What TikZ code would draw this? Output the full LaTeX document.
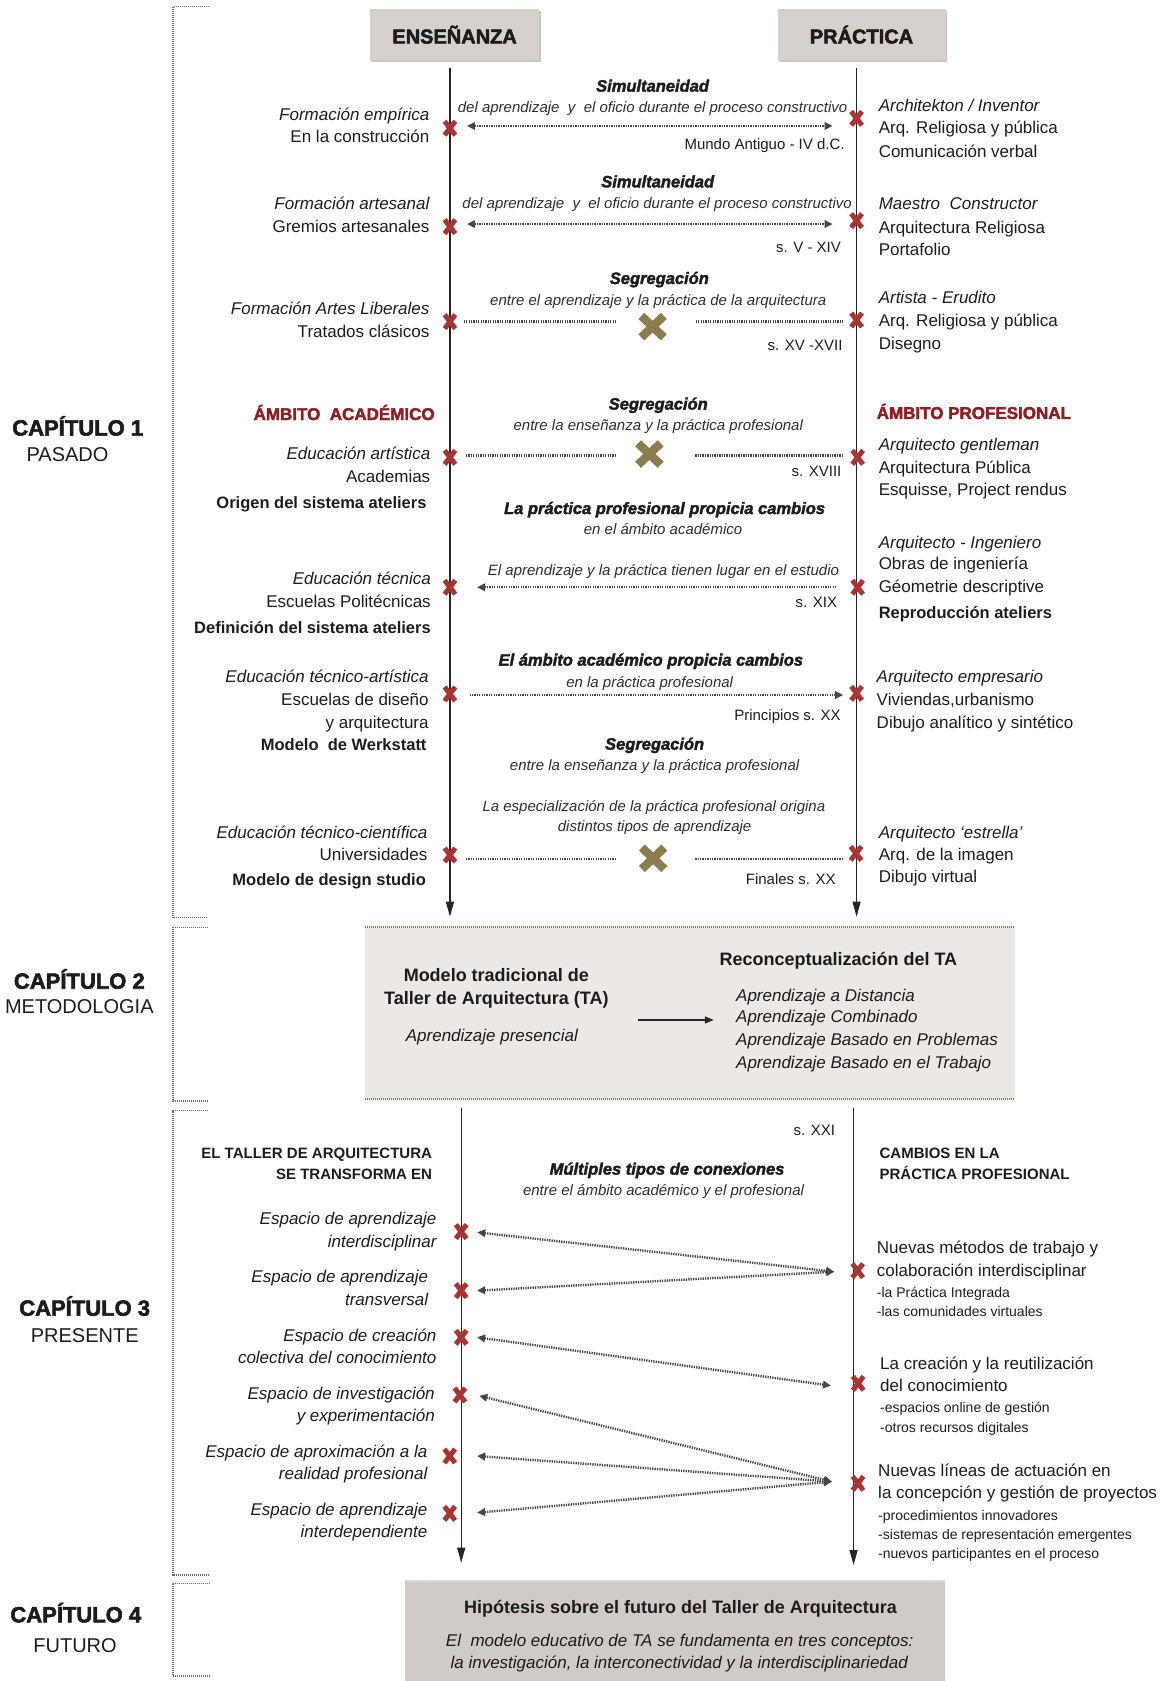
\documentclass[tikz,border=0pt]{standalone}
\usepackage{fontspec}
\setmainfont{Liberation Sans}
\newfontfamily\heavyfont[FakeBold=2.5]{Liberation Sans Bold}
\newfontfamily\heavyitfont[FakeBold=2.2]{Liberation Sans Bold Italic}
\usetikzlibrary{arrows.meta,shadows}
\definecolor{txt}{RGB}{28,28,28}
\definecolor{txt2}{RGB}{45,45,45}
\definecolor{xred}{RGB}{168,52,52}
\definecolor{xgold}{RGB}{140,124,78}
\definecolor{ared}{RGB}{140,32,36}
\definecolor{hdrfill}{RGB}{214,209,205}
\definecolor{boxfill}{RGB}{236,232,229}
\definecolor{futfill}{RGB}{208,203,199}
\definecolor{dotred}{RGB}{190,85,85}
\definecolor{arrgray}{RGB}{70,70,70}
\definecolor{brk}{RGB}{105,105,105}
\tikzset{
 base/.style={inner sep=0pt, text=txt, yshift=-3pt},
 n17/.style={base, font=\fontsize{17}{20}\selectfont},
 i17/.style={base, font=\fontsize{17}{20}\selectfont\itshape},
 b16/.style={base, font=\fontsize{16.5}{20}\selectfont\bfseries},
 b15/.style={base, font=\fontsize{15}{18}\selectfont\bfseries},
 b18/.style={base, font=\fontsize{18}{21}\selectfont\bfseries},
 i15/.style={base, text=txt2, font=\fontsize{15}{18}\selectfont\itshape},
 n15/.style={base, font=\fontsize{15}{18}\selectfont},
 n14/.style={base, font=\fontsize{14}{17}\selectfont},
 hd/.style={base, font=\fontsize{16.5}{19}\selectfont\heavyitfont},
 amb/.style={base, text=ared, font=\fontsize{17}{20}\selectfont\heavyfont},
 captitle/.style={base, font=\fontsize{22}{25}\selectfont\heavyfont},
 capsub/.style={base, font=\fontsize{20}{23}\selectfont},
 L/.style={anchor=mid east},
 R/.style={anchor=mid west},
 M/.style={anchor=mid},
 hdrbox/.style={fill=hdrfill, inner sep=0pt, text=txt, font=\fontsize{20}{23}\selectfont\heavyfont,
   drop shadow={shadow xshift=1.5pt, shadow yshift=-1.5pt, fill=black, opacity=.22}},
 brkline/.style={draw=brk, line width=1.3pt, dash pattern=on 1pt off 1pt},
 reddot/.style={draw=dotred, line width=1.3pt, dash pattern=on 1pt off 1pt},
 vline/.style={draw=black!85, line width=1.1pt, -{Triangle[length=15pt,width=8pt]}},
 darr/.style={draw=arrgray, line width=2.4pt, dash pattern=on 1.3pt off 1.1pt},
 dboth/.style={darr, {Triangle[length=8pt,width=7.5pt]}-{Triangle[length=8pt,width=7.5pt]}},
 dleft/.style={darr, {Triangle[length=8pt,width=7.5pt]}-},
 dright/.style={darr, -{Triangle[length=8pt,width=7.5pt]}},
 redx/.pic={\draw[xred, line width=5pt] (-5,-6.5)--(5,6.5) (-5,6.5)--(5,-6.5);},
 goldx/.pic={\draw[xgold, line width=8.5pt] (-10.5,-10)--(10.5,10) (-10.5,10)--(10.5,-10);},
}
\begin{document}
\begin{tikzpicture}[x=1.0721pt,y=-1.0721pt]
\useasboundingbox (0,0) rectangle (1082,1568);

% chapter brackets
\draw[brkline] (194.7,6.2) -- (161.4,6.2) -- (161.4,856) -- (193.7,856);
\draw[brkline] (193.7,865) -- (161.4,865) -- (161.4,1027) -- (193.7,1027);
\draw[brkline] (193.7,1036) -- (161.4,1036) -- (161.4,1469) -- (195.9,1469);
\draw[brkline] (195.9,1476.8) -- (161.4,1476.8) -- (161.4,1563.3) -- (195.9,1563.3);

% chapter labels
\node[captitle, M] (c1a) at (72.5,401) {CAPÍTULO 1};
\node[capsub, M] (c1b) at (63,425) {PASADO};
\node[captitle, M] (c2a) at (74,917) {CAPÍTULO 2};
\node[capsub, M] (c2b) at (74,940) {METODOLOGIA};
\node[captitle, M] (c3a) at (79,1222) {CAPÍTULO 3};
\node[capsub, M] (c3b) at (79,1247) {PRESENTE};
\node[captitle, M] (c4a) at (70.7,1508) {CAPÍTULO 4};
\node[capsub, M] (c4b) at (70,1536) {FUTURO};

% header boxes
\node[hdrbox, minimum width=169.4pt, minimum height=50.7pt] (hE) at (424,32.35) {ENSEÑANZA};
\node[hdrbox, minimum width=168pt, minimum height=50.7pt] (hP) at (803.6,32.35) {PRÁCTICA};

% vertical timelines chapter 1
\coordinate (Lt) at (419.7,63.7); \coordinate (Lb) at (419.7,855);
\coordinate (Rt) at (799,63.7);   \coordinate (Rb) at (799,855);
\draw[vline] (Lt) -- (Lb);
\draw[vline] (Rt) -- (Rb);

% row 1
\node[hd, M] (h1) at (608.7,80.2) {Simultaneidad};
\node[i15, M] (s1) at (608.7,99.5) {del aprendizaje\ \ y\ \ el oficio durante el proceso constructivo};
\coordinate (a1l) at (435.6,117.5); \coordinate (a1r) at (776.6,117.5);
\draw[dboth] (a1l) -- (a1r);
\node[n15, L] (d1) at (788,134.3) {Mundo Antiguo - IV d.C.};
\node[i17, L] (l1a) at (400.7,107.3) {Formación empírica};
\node[n17, L] (l1b) at (400.7,127.5) {En la construcción};
\node[i17, R] (r1a) at (819.5,98.9) {Architekton / Inventor};
\node[n17, R] (r1b) at (819.5,119.7) {Arq. Religiosa y pública};
\node[n17, R] (r1c) at (819.5,141.5) {Comunicación verbal};

% row 2
\node[hd, M] (h2) at (613.5,169.5) {Simultaneidad};
\node[i15, M] (s2) at (613,189) {del aprendizaje\ \ y\ \ el oficio durante el proceso constructivo};
\coordinate (a2l) at (435.6,209); \coordinate (a2r) at (776.6,209);
\draw[dboth] (a2l) -- (a2r);
\node[n15, L] (d2) at (784.5,230) {s. V - XIV};
\node[i17, L] (l2a) at (400.7,189.7) {Formación artesanal};
\node[n17, L] (l2b) at (400.7,211.4) {Gremios artesanales};
\node[i17, R] (r2a) at (819.5,190.3) {Maestro\ \ Constructor};
\node[n17, R] (r2b) at (819.5,212.4) {Arquitectura Religiosa};
\node[n17, R] (r2c) at (819.5,233.2) {Portafolio};

% row 3
\node[hd, M] (h3) at (615,259.6) {Segregación};
\node[i15, M] (s3) at (614,279.8) {entre el aprendizaje y la práctica de la arquitectura};
\coordinate (g3a) at (432.6,300); \coordinate (g3b) at (575.3,300);
\coordinate (g3c) at (649,300);   \coordinate (g3d) at (787,300);
\draw[darr] (g3a) -- (g3b);
\draw[darr] (g3c) -- (g3d);
\pic at (608.7,304.7) {goldx};
\node[n15, L] (d3) at (786,321.8) {s. XV -XVII};
\node[i17, L] (l3a) at (400.7,288.5) {Formación Artes Liberales};
\node[n17, L] (l3b) at (400.7,309.4) {Tratados clásicos};
\node[i17, R] (r3a) at (819.5,278) {Artista - Erudito};
\node[n17, R] (r3b) at (819.5,299.5) {Arq. Religiosa y pública};
\node[n17, R] (r3c) at (819.5,320.5) {Disegno};

% ambitos
\node[amb, L] (ambA) at (405.6,386.5) {ÁMBITO\ \ ACADÉMICO};
\node[amb, R] (ambP) at (817.6,385.5) {ÁMBITO PROFESIONAL};

% row 4
\node[hd, M] (h4) at (614,376.8) {Segregación};
\node[i15, M] (s4) at (614,396.4) {entre la enseñanza y la práctica profesional};
\coordinate (g4a) at (434.6,424.7); \coordinate (g4b) at (574.7,424.7);
\coordinate (g4c) at (648.5,424.7); \coordinate (g4d) at (786.5,424.7);
\draw[darr] (g4a) -- (g4b);
\draw[darr] (g4c) -- (g4d);
\pic at (605.7,423.5) {goldx};
\node[n15, L] (d4) at (785,439) {s. XVIII};
\node[i17, L] (l4a) at (401.5,423.5) {Educación artística};
\node[n17, L] (l4b) at (401.5,444.6) {Academias};
\node[b16, L] (l4c) at (398,468.9) {Origen del sistema ateliers};
\node[i17, R] (r4a) at (819.5,415) {Arquitecto gentleman};
\node[n17, R] (r4b) at (819.5,436) {Arquitectura Pública};
\node[n17, R] (r4c) at (819.5,457) {Esquisse, Project rendus};

% row 5
\node[hd, M] (h5) at (619.9,474.2) {La práctica profesional propicia cambios};
\node[i15, M] (s5) at (618.5,493.5) {en el ámbito académico};
\node[i15, M] (s5b) at (618.9,531.7) {El aprendizaje y la práctica tienen lugar en el estudio};
\coordinate (a5l) at (445,547.8); \coordinate (a5r) at (779.6,547.8);
\draw[dleft] (a5l) -- (a5r);
\node[n15, L] (d5) at (781,561.2) {s. XIX};
\node[i17, L] (l5a) at (402,540.4) {Educación técnica};
\node[n17, L] (l5b) at (402,561.2) {Escuelas Politécnicas};
\node[b16, L] (l5c) at (402,586) {Definición del sistema ateliers};
\node[i17, R] (r5a) at (819.5,505.9) {Arquitecto - Ingeniero};
\node[n17, R] (r5b) at (819.5,526.4) {Obras de ingeniería};
\node[n17, R] (r5c) at (819.5,547.2) {Géometrie descriptive};
\node[b16, R] (r5d) at (819.5,571.5) {Reproducción ateliers};

% row 6
\node[hd, M] (h6) at (607.1,615.6) {El ámbito académico propicia cambios};
\node[i15, M] (s6) at (606,635.8) {en la práctica profesional};
\coordinate (a6l) at (438,648.3); \coordinate (a6r) at (786.5,648.3);
\draw[dright] (a6l) -- (a6r);
\node[n15, L] (d6) at (784.4,667) {Principios s. XX};
\node[i17, L] (l6a) at (400,631.8) {Educación técnico-artística};
\node[n17, L] (l6b) at (400,653) {Escuelas de diseño};
\node[n17, L] (l6c) at (400,674) {y arquitectura};
\node[b16, L] (l6d) at (398,694.9) {Modelo\ \ de Werkstatt};
\node[i17, R] (r6a) at (817.6,631.8) {Arquitecto empresario};
\node[n17, R] (r6b) at (817.6,653) {Viviendas,urbanismo};
\node[n17, R] (r6c) at (817.6,674) {Dibujo analítico y sintético};

% row 7
\node[hd, M] (h7) at (610.6,694) {Segregación};
\node[i15, M] (s7) at (610.6,713.6) {entre la enseñanza y la práctica profesional};
\node[i15, M] (s7b) at (609.9,751.5) {La especialización de la práctica profesional origina};
\node[i15, M] (s7c) at (610.6,770.5) {distintos tipos de aprendizaje};
\coordinate (g7a) at (434.6,801.5); \coordinate (g7b) at (574.7,801.5);
\coordinate (g7c) at (648.5,801.5); \coordinate (g7d) at (786.5,801.5);
\draw[darr] (g7a) -- (g7b);
\draw[darr] (g7c) -- (g7d);
\pic at (609.2,800.6) {goldx};
\node[n15, L] (d7) at (779.6,820.2) {Finales s. XX};
\node[i17, L] (l7a) at (398.8,776.7) {Educación técnico-científica};
\node[n17, L] (l7b) at (398.8,797.5) {Universidades};
\node[b16, L] (l7c) at (397.4,820.8) {Modelo de design studio};
\node[i17, R] (r7a) at (819.6,776.7) {Arquitecto ‘estrella’};
\node[n17, R] (r7b) at (819.6,797.5) {Arq. de la imagen};
\node[n17, R] (r7c) at (819.6,818.3) {Dibujo virtual};

% red marks chapter 1
\foreach \y in {119.6,211.4,300,426.6,547.8,647.3,797.5} \pic at (419.7,\y) {redx};
\pic at (799,110.4) {redx};
\pic at (799,205.8) {redx};
\pic at (799,298.5) {redx};
\pic at (800,426.6) {redx};
\pic at (800,547.8) {redx};
\pic at (799,646.7) {redx};
\pic at (798.5,796) {redx};

% chapter 2 box
\fill[boxfill] (340.5,864.7) rectangle (946.7,1025);
\draw[reddot] (340.5,864.7) -- (946.7,864.7);
\draw[reddot] (340.5,1025) -- (946.7,1025);
\node[b18, M] (m1a) at (462.9,910.4) {Modelo tradicional de};
\node[b18, M] (m1b) at (463,932.1) {Taller de Arquitectura (TA)};
\node[i17, M] (m1c) at (458.8,966.3) {Aprendizaje presencial};
\coordinate (ma) at (594.7,951.4); \coordinate (mb) at (665.8,951.4);
\draw[line width=1.4pt, black!85, -{Triangle[length=9pt,width=7pt]}] (ma) -- (mb);
\node[b18, M] (m2) at (782,895.4) {Reconceptualización del TA};
\node[i17, R] (m2a) at (686.5,928.7) {Aprendizaje a Distancia};
\node[i17, R] (m2b) at (686.5,948.9) {Aprendizaje Combinado};
\node[i17, R] (m2c) at (686.5,970) {Aprendizaje Basado en Problemas};
\node[i17, R] (m2d) at (686.5,991.2) {Aprendizaje Basado en el Trabajo};

% chapter 3 timelines
\coordinate (L3t) at (430.2,1033.8); \coordinate (L3b) at (430.2,1457.6);
\coordinate (R3t) at (796.2,1033.8); \coordinate (R3b) at (796.2,1459.8);
\draw[vline] (L3t) -- (L3b);
\draw[vline] (R3t) -- (R3b);

\node[n15, L] (d8) at (779,1054) {s. XXI};
\node[b15, L] (t3a) at (403.1,1075.8) {EL TALLER DE ARQUITECTURA};
\node[b15, L] (t3b) at (403.1,1095) {SE TRANSFORMA EN};
\node[hd, M] (h8) at (622.2,1090.4) {Múltiples tipos de conexiones};
\node[i15, M] (s8) at (618.9,1110) {entre el ámbito académico y el profesional};
\node[b15, R] (t3c) at (820.3,1075.8) {CAMBIOS EN LA};
\node[b15, R] (t3d) at (820.3,1095) {PRÁCTICA PROFESIONAL};

\node[i17, L] (e1a) at (407.3,1137.3) {Espacio de aprendizaje};
\node[i17, L] (e1b) at (407.3,1158.2) {interdisciplinar};
\node[i17, L] (e2a) at (399.6,1190.8) {Espacio de aprendizaje};
\node[i17, L] (e2b) at (399.6,1212) {transversal};
\node[i17, L] (e3a) at (407.3,1245.8) {Espacio de creación};
\node[i17, L] (e3b) at (407.3,1267) {colectiva del conocimiento};
\node[i17, L] (e4a) at (405.7,1300.3) {Espacio de investigación};
\node[i17, L] (e4b) at (405.7,1320.8) {y experimentación};
\node[i17, L] (e5a) at (398.8,1354) {Espacio de aproximación a la};
\node[i17, L] (e5b) at (398.8,1375.2) {realidad profesional};
\node[i17, L] (e6a) at (398.8,1408.5) {Espacio de aprendizaje};
\node[i17, L] (e6b) at (398.8,1428.7) {interdependiente};

\node[n17, R] (p1a) at (817.8,1164.4) {Nuevas métodos de trabajo y};
\node[n17, R] (p1b) at (817.8,1185.2) {colaboración interdisciplinar};
\node[n14, R] (p1c) at (817.8,1204.8) {-la Práctica Integrada};
\node[n14, R] (p1d) at (817.8,1222.5) {-las comunidades virtuales};
\node[n17, R] (p2a) at (820.8,1271.7) {La creación y la reutilización};
\node[n17, R] (p2b) at (820.8,1292.5) {del conocimiento};
\node[n14, R] (p2c) at (820.8,1312.7) {-espacios online de gestión};
\node[n14, R] (p2d) at (820.8,1330.7) {-otros recursos digitales};
\node[n17, R] (p3a) at (819,1371.8) {Nuevas líneas de actuación en};
\node[n17, R] (p3b) at (819,1392.9) {la concepción y gestión de proyectos};
\node[n14, R] (p3c) at (819,1413.1) {-procedimientos innovadores};
\node[n14, R] (p3d) at (819,1430.8) {-sistemas de representación emergentes};
\node[n14, R] (p3e) at (819,1448.9) {-nuevos participantes en el proceso};

\coordinate (c1) at (445.2,1149.5); \coordinate (c2) at (445,1203.9);
\coordinate (c3) at (445,1247.4);   \coordinate (c4) at (447,1302);
\coordinate (c5) at (445,1358.1);   \coordinate (c6) at (445,1411);
\coordinate (q1) at (778.2,1186.2); \coordinate (q2) at (775.1,1292.5);
\coordinate (q3) at (776,1382);
\draw[dboth] (c1) -- (q1);
\draw[dboth] (c2) -- (q1);
\draw[dboth] (c3) -- (q2);
\draw[dboth] (c4) -- (q3);
\draw[dboth] (c5) -- (q3);
\draw[dboth] (c6) -- (q3);

\pic at (430.2,1148.8) {redx};
\pic at (430.2,1203.9) {redx};
\pic at (430.2,1247.4) {redx};
\pic at (429,1301.2) {redx};
\pic at (419.5,1358.1) {redx};
\pic at (419.5,1411.6) {redx};
\pic at (800,1185.2) {redx};
\pic at (800.5,1290.3) {redx};
\pic at (800.3,1383.6) {redx};

% chapter 4 box
\path[fill=futfill, drop shadow={shadow xshift=0pt, shadow yshift=1.5pt, fill=black, opacity=.15}] (378,1475.3) rectangle (881.7,1580);
\node[b18, M] (f1) at (634.7,1499.5) {Hipótesis sobre el futuro del Taller de Arquitectura};
\node[i17, M] (f2) at (634,1530.3) {El\ \ modelo educativo de TA se fundamenta en tres conceptos:};
\node[i17, M] (f3) at (633.6,1550.8) {la investigación, la interconectividad y la interdisciplinariedad};
\end{tikzpicture}
\end{document}
